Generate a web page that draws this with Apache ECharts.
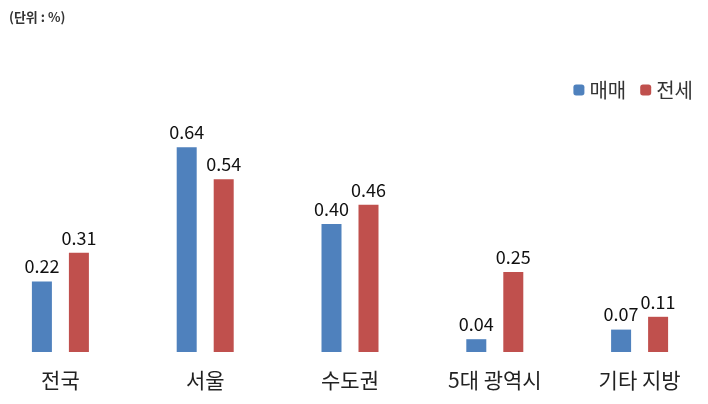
<!DOCTYPE html>
<html><head><meta charset="utf-8">
<script src="https://cdn.jsdelivr.net/npm/echarts@6/dist/echarts.min.js"></script>
<style>html,body{margin:0;padding:0;background:#fff;overflow:hidden}#c{width:724px;height:404px;margin-left:-12px}</style>
</head><body><div id="c"></div>
<script>
const categories = ['전국','서울','수도권','5대 광역시','기타 지방'];
const sale = [0.22,0.64,0.40,0.04,0.07];
const jeonse = [0.31,0.54,0.46,0.25,0.11];
const chart = echarts.init(document.getElementById('c'));
const lbl = {show:true,position:'top',distance:6,color:'#111',fontSize:18,fontFamily:'Noto Sans CJK KR',formatter:p=>p.value.toFixed(2)};
chart.setOption({
  animation:false,
  textStyle:{fontFamily:'Noto Sans CJK KR'},
  title:{text:'(단위 : %)',left:16,top:6,textStyle:{fontSize:13,fontWeight:'bold',color:'#333'}},
  legend:{right:14,top:75,itemWidth:11,itemHeight:11,itemGap:14,textStyle:{fontSize:20,color:'#333'},data:['매매','전세']},
  grid:{left:0,right:0,top:64,bottom:52},
  xAxis:{type:'category',data:categories,axisLine:{show:false},axisTick:{show:false},
    axisLabel:{fontSize:21,color:'#222',margin:18}},
  yAxis:{type:'value',min:0,max:0.9,show:false,splitLine:{show:false}},
  series:[
    {name:'매매',type:'bar',data:sale,barWidth:20,barGap:'85%',itemStyle:{color:'#4F81BD'},label:lbl},
    {name:'전세',type:'bar',data:jeonse,barWidth:20,itemStyle:{color:'#C0504D'},label:lbl}
  ]
});
</script></body></html>
